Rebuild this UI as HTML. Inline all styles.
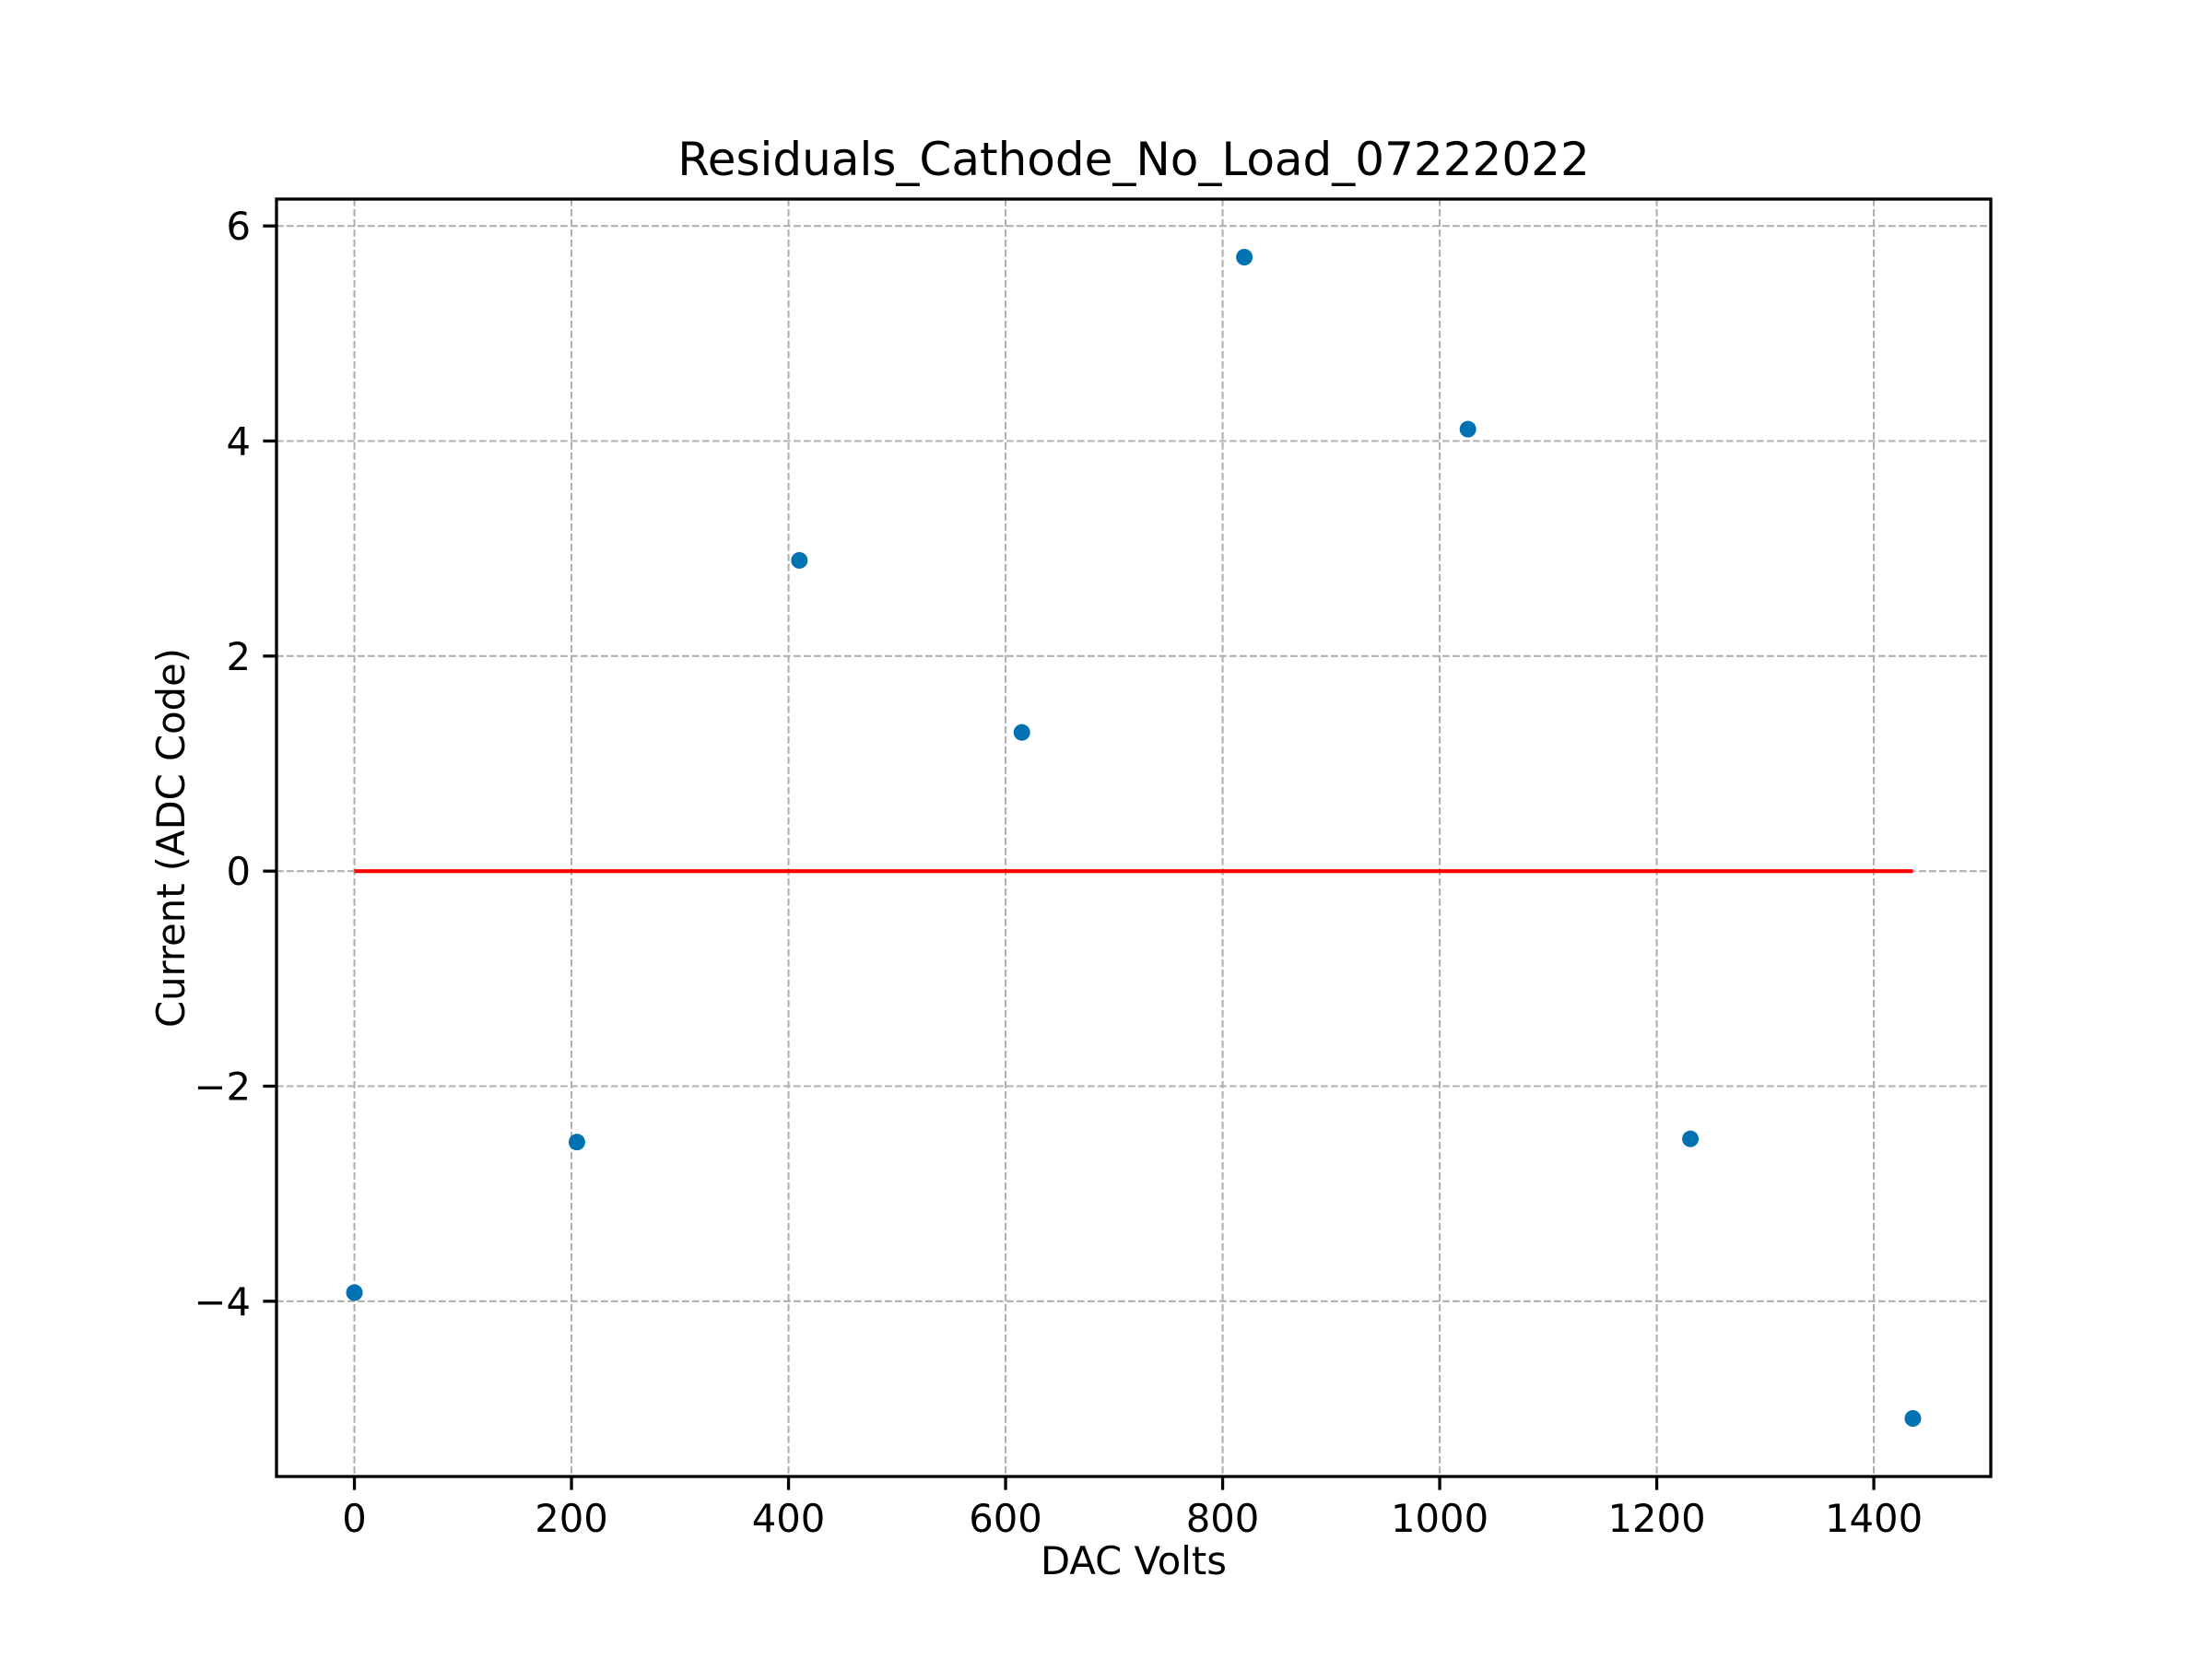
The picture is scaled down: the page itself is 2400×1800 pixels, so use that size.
<!DOCTYPE html>
<html><head><meta charset="utf-8"><style>
html,body{margin:0;padding:0;background:#fff;}
svg{display:block;font-family:"DejaVu Sans","Liberation Sans",sans-serif;}
</style></head><body>
<svg id="chart" width="2400" height="1800" viewBox="0 0 2400 1800">
<rect width="2400" height="1800" fill="#fff"/>
<g id="grid"></g>
<g id="marks"></g>
<g id="axes"></g>
<text x="1230" y="190" font-size="50" text-anchor="middle">Residuals_Cathode_No_Load_07222022</text>
<text x="1230" y="1708" font-size="41.7" text-anchor="middle">DAC Volts</text>
<text transform="translate(200,909) rotate(-90)" font-size="41.7" text-anchor="middle">Current (ADC Code)</text>
</svg>
<script>
const xValues = [0, 205, 410, 615, 820, 1026, 1231, 1436];
const residuals = [-3.92, -2.52, 2.89, 1.29, 5.71, 4.11, -2.49, -5.09];
const xTicks = [0, 200, 400, 600, 800, 1000, 1200, 1400];
const yTicks = [-4, -2, 0, 2, 4, 6];
const yTickLabels = ["\u22124", "\u22122", "0", "2", "4", "6"];
const fitLine = [[0, 0], [1436, 0]];

const L = 300, R = 2160, T = 216, B = 1602;
const NS = "http://www.w3.org/2000/svg";
const xmin0 = Math.min(...xValues), xmax0 = Math.max(...xValues);
const ymin0 = Math.min(...residuals), ymax0 = Math.max(...residuals);
const xm = (xmax0 - xmin0) * 0.05, ym = (ymax0 - ymin0) * 0.05;
const xmin = xmin0 - xm, xmax = xmax0 + xm, ymin = ymin0 - ym, ymax = ymax0 + ym;
const sx = v => L + (v - xmin) / (xmax - xmin) * (R - L);
const sy = v => B - (v - ymin) / (ymax - ymin) * (B - T);
function mk(tag, attrs, parent) {
  const e = document.createElementNS(NS, tag);
  for (const k in attrs) e.setAttribute(k, attrs[k]);
  parent.appendChild(e);
  return e;
}
const grid = document.getElementById('grid');
const marks = document.getElementById('marks');
const axes = document.getElementById('axes');
xTicks.forEach(t => {
  const g = mk('line', {x1: sx(t), x2: sx(t), y1: T, y2: B, stroke: '#b0b0b0', 'stroke-width': 2.1, 'stroke-dasharray': '7.7,3.3'}, grid);
  
  
  const tk = mk('line', {x1: sx(t), x2: sx(t), y1: B, y2: B + 14.6, stroke: '#000', 'stroke-width': 3.3}, axes);
  
  
  const lb = mk('text', {x: sx(t), y: B + 60, 'font-size': 41.7, 'text-anchor': 'middle'}, axes);
  lb.textContent = t;
  
  
});
yTicks.forEach((t, i) => {
  const g = mk('line', {x1: L, x2: R, y1: sy(t), y2: sy(t), stroke: '#b0b0b0', 'stroke-width': 2.1, 'stroke-dasharray': '7.7,3.3'}, grid);
  
  
  const tk = mk('line', {x1: L - 14.6, x2: L, y1: sy(t), y2: sy(t), stroke: '#000', 'stroke-width': 3.3}, axes);
  
  
  const lb = mk('text', {x: L - 28, y: sy(t) + 15, 'font-size': 41.7, 'text-anchor': 'end'}, axes);
  lb.textContent = yTickLabels[i];
  
  
});
const zl = mk('line', {x1: sx(fitLine[0][0]), x2: sx(fitLine[1][0]), y1: sy(fitLine[0][1]), y2: sy(fitLine[1][1]), stroke: '#ff0000', 'stroke-width': 4.2}, marks);


xValues.forEach((x, i) => {
  const c = mk('circle', {cx: sx(x), cy: sy(residuals[i]), r: 9, fill: '#0072b2'}, marks);
  
  
});
const fr = mk('rect', {x: L, y: T, width: R - L, height: B - T, fill: 'none', stroke: '#000', 'stroke-width': 3.3}, axes);


</script>
</body></html>
